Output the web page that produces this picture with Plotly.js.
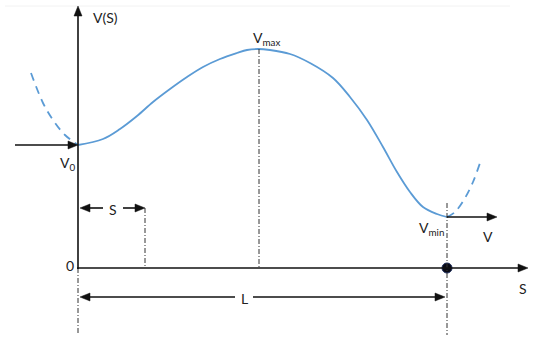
<!DOCTYPE html>
<html>
<head>
<meta charset="utf-8">
<script src="https://cdn.plot.ly/plotly-3.0.1.min.js"></script>
<style>html,body{margin:0;padding:0;background:#fff;}#chart{width:544px;height:349px;}</style>
</head>
<body>
<div id="chart"></div>
<script>
// Main potential curve V(S), solid part (S from 0 to L)
var curveS = [0, 25, 42, 59, 75, 92, 109, 125, 142, 159, 169, 180, 192, 212, 232, 255, 272, 289, 305, 319, 332, 345, 359, 369];
var curveV = [123, 129, 139, 152, 166, 179, 191, 201, 209, 215, 218, 219, 218, 214, 205, 190, 171, 148, 121, 96, 76, 61, 54, 51];
// Dashed continuations
var leftDashS = [-47, -35, -25, -13, 0];
var leftDashV = [195, 165, 148, 133, 123];
var rightDashS = [369, 377, 387, 395, 402];
var rightDashV = [51, 56, 70, 86, 105];
// Key positions
var L = 369, sMark = 67, sMax = 181, V0 = 123, Vmax = 219, Vmin = 51;
var sAxisEnd = 450, vAxisEnd = 262;
// Labels
var labelTexts = ['V(S)', 'V<sub>0</sub>', 'V<sub>max</sub>', 'V<sub>min</sub>', 'V', '0', 'S', 'L', 'S'];
var labelS = [27, -11, 188, 353, 410, -8, 35, 166, 445];
var labelV = [251, 105, 230, 40, 32, 3, 59, -30, -20];

var ink = '#111111';
var blue = '#5b9bd5';
var fnt = {family: 'Lato, "Open Sans", sans-serif', size: 14, color: '#222'};

var traces = [
  {x: curveS, y: curveV, mode: 'lines', line: {color: blue, width: 1.8, shape: 'spline', smoothing: 1}, hoverinfo: 'skip'},
  {x: leftDashS, y: leftDashV, mode: 'lines', line: {color: blue, width: 1.8, dash: '8px,6px', shape: 'spline'}, hoverinfo: 'skip'},
  {x: rightDashS, y: rightDashV, mode: 'lines', line: {color: blue, width: 1.8, dash: '8px,6px', shape: 'spline'}, hoverinfo: 'skip'},
  {x: [L], y: [0], mode: 'markers', marker: {size: 10, color: '#0a0a14', line: {color: '#1a2a5a', width: 1}}, hoverinfo: 'skip'}
];

var shapes = [];
// Arrow: line from (x0,y0) to tip (x1,y1), filled head at tip (data units == pixels here)
function arrow(x0, y0, x1, y1) {
  var dx = x1 - x0, dy = y1 - y0, len = Math.sqrt(dx * dx + dy * dy);
  var ux = dx / len, uy = dy / len, hl = 10, hw = 4;
  var bx = x1 - ux * hl, by = y1 - uy * hl;
  shapes.push({type: 'line', xref: 'x', yref: 'y', x0: x0, y0: y0, x1: bx + ux * 2, y1: by + uy * 2,
    line: {color: ink, width: 1.6}});
  var px = -uy, py = ux;
  shapes.push({type: 'path', xref: 'x', yref: 'y',
    path: 'M' + x1 + ',' + y1 + ' L' + (bx + px * hw) + ',' + (by + py * hw) + ' L' + (bx - px * hw) + ',' + (by - py * hw) + ' Z',
    fillcolor: ink, line: {color: ink, width: 0.5}});
}
function vdash(x, y0, y1) {
  shapes.push({type: 'line', xref: 'x', yref: 'y', x0: x, x1: x, y0: y0, y1: y1,
    line: {color: '#333', width: 1, dash: '5px,2px,1px,2px'}});
}

shapes.push({type: 'line', xref: 'x', yref: 'y', x0: -73, x1: 432, y0: 262, y1: 262, line: {color: '#f2f2f2', width: 1}});
vdash(0, 0, -67);
vdash(sMark, 60, 0);
vdash(sMax, Vmax, 0);
vdash(L, 65, -67);
arrow(0, -1, 0, vAxisEnd);
arrow(-1, 0, sAxisEnd, 0);
arrow(-63, V0, 0, V0);
arrow(L, Vmin, L + 50, Vmin);
arrow(25, 60, 2, 60);
arrow(45, 60, sMark, 60);
arrow(157, -29, 2, -29);
arrow(175, -29, L - 2, -29);

var annotations = labelTexts.map(function (t, i) {
  return {x: labelS[i], y: labelV[i], xref: 'x', yref: 'y', text: t, showarrow: false, font: fnt};
});

var layout = {
  width: 544, height: 349,
  margin: {l: 0, r: 0, t: 0, b: 0},
  paper_bgcolor: '#fff', plot_bgcolor: '#fff',
  showlegend: false,
  xaxis: {range: [-78, 466], visible: false, fixedrange: true},
  yaxis: {range: [-81, 268], visible: false, fixedrange: true},
  annotations: annotations,
  shapes: shapes
};

Plotly.newPlot('chart', traces, layout, {staticPlot: true, displayModeBar: false});
</script>
</body>
</html>
